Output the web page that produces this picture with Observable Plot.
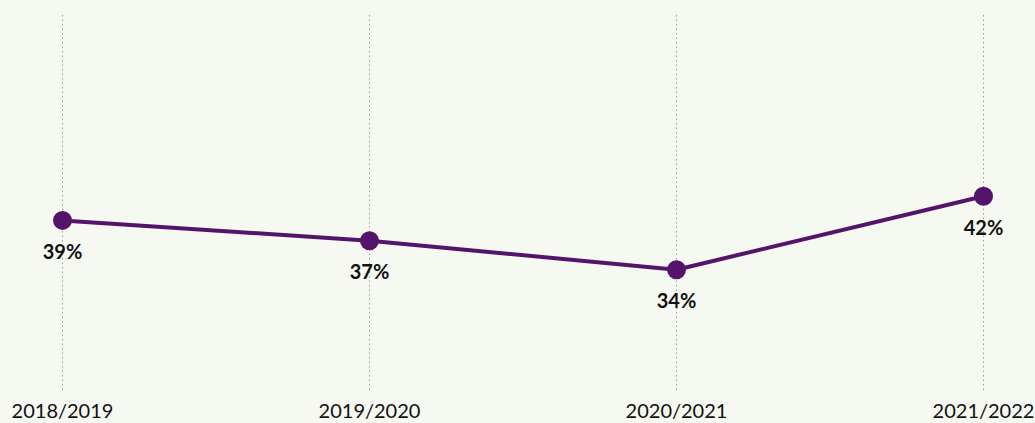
<!DOCTYPE html>
<html><head><meta charset="utf-8">
<script src="https://cdn.jsdelivr.net/npm/d3@7"></script>
<script src="https://cdn.jsdelivr.net/npm/@observablehq/plot@0.6"></script>
<style>
html,body{margin:0;padding:0;background:#f6f8f2;}
</style></head>
<body><div id="chart"></div>
<script>
const years = ["2018/2019", "2019/2020", "2020/2021", "2021/2022"];
const shares = [39.1, 37.0, 34.0, 41.6];
const labels = ["39%", "37%", "34%", "42%"];
const data = years.map((y, i) => ({year: y, value: shares[i], label: labels[i]}));

const chart = Plot.plot({
  width: 1035,
  height: 423,
  marginTop: 15,
  marginBottom: 33,
  marginLeft: 61,
  marginRight: 52,
  style: {background: "#f6f8f2", fontFamily: "Lato, 'Noto Sans', sans-serif", fontSize: "20px", color: "#111"},
  x: {type: "point", domain: years, padding: 0, label: null, tickSize: 0, tickPadding: 13},
  y: {domain: [21.5, 60.3], axis: null},
  marks: [
    Plot.ruleX(years, {stroke: "#9a9a9a", strokeWidth: 1, strokeDasharray: "1.5,3"}),
    Plot.line(data, {x: "year", y: "value", stroke: "#54146b", strokeWidth: 4}),
    Plot.dot(data, {x: "year", y: "value", r: 9.5, fill: "#54146b", stroke: "none"}),
    Plot.text(data, {x: "year", y: "value", text: "label", dy: 32, fontWeight: "bold", fontSize: 20, fill: "#111"})
  ]
});
document.getElementById("chart").appendChild(chart);
</script></body></html>
